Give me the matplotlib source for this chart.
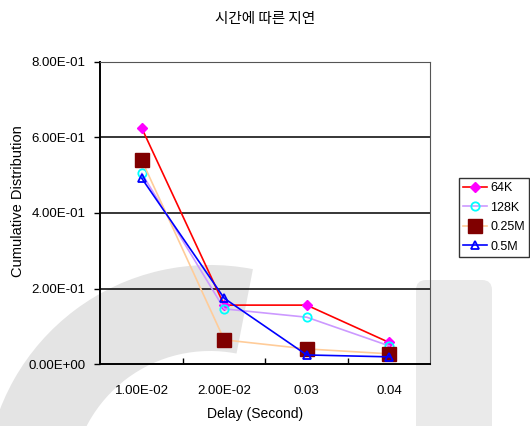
import matplotlib
matplotlib.use("Agg")
import matplotlib.pyplot as plt
from matplotlib.patches import Wedge, FancyBboxPatch

# Data
categories = ["1.00E-02", "2.00E-02", "0.03", "0.04"]
series_names = ["64K", "128K", "0.25M", "0.5M"]
values_64k = [0.625, 0.156, 0.156, 0.057]
values_128k = [0.505, 0.146, 0.124, 0.048]
values_025m = [0.540, 0.064, 0.040, 0.027]
values_05m = [0.492, 0.174, 0.024, 0.019]
y_ticks = [0.0, 0.2, 0.4, 0.6, 0.8]
y_tick_labels = ["0.00E+00", "2.00E-01", "4.00E-01", "6.00E-01", "8.00E-01"]

plt.rcParams["font.family"] = ["Liberation Sans", "DejaVu Sans"]

W, H = 530, 426
fig = plt.figure(figsize=(W / 100, H / 100), dpi=100)

# Faint grey watermark behind the chart (pixel-unit background axes)
bg = fig.add_axes([0, 0, 1, 1], zorder=0)
bg.set_xlim(0, W)
bg.set_ylim(0, H)
bg.axis("off")
bg.add_patch(Wedge((210, -64), 225, 79, 270, width=86,
                   facecolor="#E4E4E4", edgecolor="none"))
bg.add_patch(FancyBboxPatch((416, -20), 76, 166, boxstyle="round,pad=0,rounding_size=10",
                            facecolor="#EAEAEA", edgecolor="none"))

ax = fig.add_axes([0.1896, 0.1455, 0.6226, 0.709], zorder=1)
ax.set_facecolor("none")

x = list(range(len(categories)))

styles = [
    dict(color="#FF0000", marker="D", mfc="#FF00FF", mec="#FF00FF", ms=5),
    dict(color="#CC99FF", marker="o", mfc="none", mec="#00FFFF", ms=6, mew=1.3),
    dict(color="#FFCC99", marker="s", mfc="#800000", mec="#800000", ms=10),
    dict(color="#0000FF", marker="^", mfc="none", mec="#0000FF", ms=6, mew=1.3),
]
all_values = [values_64k, values_128k, values_025m, values_05m]
for name, vals, st in zip(series_names, all_values, styles):
    ax.plot(x, vals, lw=1.2, label=name, **st)

ax.set_xlim(-0.5, len(categories) - 0.5)
ax.set_ylim(0, 0.8)
ax.set_yticks(y_ticks)
ax.set_yticklabels(y_tick_labels, fontsize=9.5)
ax.set_xticks(x)
ax.set_xticklabels(categories, fontsize=9.5)
ax.set_xticks([i + 0.5 for i in x[:-1]], minor=True)
ax.tick_params(axis="x", which="major", length=0, pad=15)
ax.tick_params(axis="x", which="minor", direction="in", length=4, width=1, color="black")
ax.tick_params(axis="y", direction="out", length=4, width=1, color="black", pad=7)

for yv in y_ticks[1:-1]:
    ax.axhline(yv, color="black", lw=1.1, zorder=0)

ax.spines["left"].set_color("black")
ax.spines["bottom"].set_color("black")
ax.spines["left"].set_linewidth(1.4)
ax.spines["bottom"].set_linewidth(1.4)
ax.spines["top"].set_color("#555555")
ax.spines["right"].set_color("#555555")

ax.set_xlabel("Delay (Second)", fontsize=10)
ax.xaxis.set_label_coords(0.468, -0.142)
ax.set_ylabel("Cumulative Distribution", fontsize=10.5)
ax.yaxis.set_label_coords(-0.229, 0.54)

fig.text(0.5, 0.955, "시간에 따른 지연", ha="center", va="center", fontsize=10.5,
         family=["Noto Sans CJK KR", "DejaVu Sans"])

leg = fig.legend(loc="upper left", bbox_to_anchor=(0.866, 0.583), fontsize=9,
                 frameon=True, fancybox=False, edgecolor="black",
                 handlelength=1.9, handletextpad=0.25, borderpad=0.35,
                 labelspacing=0.6, borderaxespad=0)
leg.get_frame().set_linewidth(1.0)
leg.set_zorder(2)

fig.savefig("out.png", dpi=100)
